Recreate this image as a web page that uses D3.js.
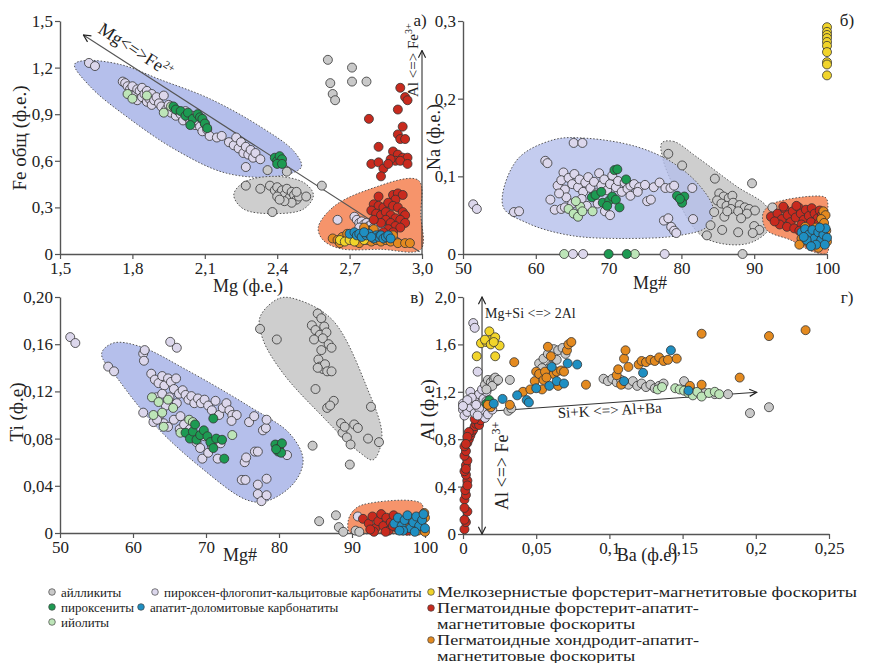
<!DOCTYPE html>
<html>
<head>
<meta charset="utf-8">
<script src="https://cdn.jsdelivr.net/npm/d3@7"></script>
<style>
body { margin: 0; background: #fff; }
text { font-family: "Liberation Serif", "DejaVu Serif", serif; fill: #222; }
</style>
</head>
<body>
<div id="chart"></div>
<script>
// ---- colours of the rock groups
const colAil = "#c9c9c9";   // айлликиты
const colPyr = "#1d9a52";   // пироксениты
const colIjo = "#bde5b8";   // ийолиты
const colPfc = "#dcd7ec";   // пироксен-флогопит-кальцитовые карбонатиты
const colApd = "#1f8fc2";   // апатит-доломитовые карбонатиты
const colFine = "#f1d42a";  // мелкозернистые фоскориты
const colPfa = "#c82a1e";   // пегматоидные форстерит-апатит-магнетитовые
const colPha = "#e48a1f";   // пегматоидные хондродит-апатит-магнетитовые

// ---- panel а) Mg vs Fe
const aXTicks = [1.5, 1.8, 2.1, 2.4, 2.7, 3.0];
const aXLabels = ["1,5", "1,8", "2,1", "2,4", "2,7", "3,0"];
const aYTicks = [0, 0.3, 0.6, 0.9, 1.2, 1.5];
const aYLabels = ["0", "0,3", "0,6", "0,9", "1,2", "1,5"];

const aAil = [[2.27,0.44],[2.33,0.42],[2.38,0.27],[2.37,0.44],[2.39,0.41],[2.40,0.43],[2.41,0.39],[2.42,0.41],[2.43,0.38],[2.44,0.42],[2.45,0.36],[2.46,0.40],[2.47,0.38],[2.48,0.35],[2.46,0.33],[2.43,0.34],[2.40,0.37],[2.49,0.37],[2.52,0.37],[2.41,0.35],[2.48,0.40],[2.44,0.53],[2.36,0.54],[2.585,0.44],[2.61,1.25],[2.62,1.10],[2.63,1.03],[2.64,0.99],[2.71,1.20],[2.71,1.11],[2.77,1.11]];
const aPfc = [[1.62,1.23],[1.645,1.21],[1.76,1.11],[1.77,1.10],[1.78,1.08],[1.79,1.06],[1.80,1.04],[1.80,1.08],[1.81,1.02],[1.82,1.06],[1.82,0.99],[1.83,1.05],[1.84,1.07],[1.84,1.01],[1.85,1.03],[1.86,0.98],[1.86,1.05],[1.87,1.00],[1.88,1.03],[1.88,0.96],[1.89,0.99],[1.90,1.01],[1.91,0.97],[1.92,0.95],[1.93,1.02],[1.94,0.93],[1.95,0.96],[1.96,0.91],[1.97,0.94],[1.98,0.89],[1.99,0.92],[2.00,0.90],[2.01,0.86],[2.02,0.92],[2.03,0.88],[2.04,0.85],[2.05,0.89],[2.06,0.83],[2.07,0.86],[2.08,0.82],[2.09,0.79],[2.10,0.84],[2.11,0.80],[2.12,0.76],[2.15,0.75],[2.17,0.76],[2.20,0.72],[2.22,0.70],[2.23,0.75],[2.24,0.68],[2.25,0.72],[2.26,0.65],[2.27,0.69],[2.28,0.64],[2.29,0.67],[2.30,0.62],[2.31,0.65],[2.33,0.61],[2.27,0.56],[2.65,0.22],[2.72,0.24],[2.73,0.22],[2.74,0.20],[2.75,0.21],[2.76,0.19],[2.77,0.20],[2.78,0.18],[2.79,0.19],[2.80,0.17],[2.82,0.18],[2.84,0.16],[2.74,0.17]];
const aPyr = [[1.97,0.95],[1.98,0.93],[2.00,0.92],[2.02,0.89],[2.03,0.91],[2.05,0.87],[2.07,0.90],[2.08,0.88],[2.09,0.87],[2.10,0.84],[2.11,0.81],[2.04,0.83],[2.39,0.62],[2.40,0.60],[2.41,0.63],[2.42,0.61],[2.40,0.58],[2.42,0.58]];
const aIjo = [[1.78,1.03],[1.80,1.00],[1.93,0.91],[1.96,0.95],[1.86,1.02]];
const aPfa = [[2.91,1.07],[2.93,1.01],[2.94,0.99],[2.90,0.93],[2.78,0.87],[2.92,0.82],[2.90,0.77],[2.91,0.74],[2.93,0.74],[2.82,0.69],[2.88,0.66],[2.90,0.64],[2.92,0.62],[2.94,0.62],[2.89,0.60],[2.91,0.60],[2.87,0.61],[2.94,0.58],[2.79,0.58],[2.82,0.59],[2.84,0.55],[2.83,0.50],[2.86,0.58],[2.82,0.37],[2.88,0.38],[2.90,0.39],[2.92,0.38],[2.89,0.35],[2.80,0.32],[2.82,0.31],[2.84,0.30],[2.86,0.33],[2.88,0.31],[2.90,0.30],[2.92,0.27],[2.93,0.25],[2.79,0.28],[2.81,0.26],[2.83,0.25],[2.85,0.27],[2.87,0.25],[2.89,0.23],[2.91,0.22],[2.93,0.20],[2.85,0.22],[2.87,0.20],[2.89,0.18],[2.91,0.17],[2.83,0.20],[2.80,0.22],[2.86,0.16],[2.88,0.14],[2.84,0.14],[2.78,0.15]];
const aPha = [[2.63,0.10],[2.65,0.09],[2.67,0.11],[2.69,0.10],[2.71,0.09],[2.73,0.08],[2.75,0.10],[2.77,0.09],[2.79,0.08],[2.81,0.09],[2.83,0.08],[2.85,0.09],[2.87,0.08],[2.90,0.07],[2.93,0.07],[2.95,0.07],[2.78,0.15],[2.80,0.16],[2.76,0.17],[2.88,0.12],[2.74,0.07],[2.69,0.13],[2.66,0.07]];
const aApd = [[2.70,0.13],[2.72,0.14],[2.73,0.12],[2.74,0.13],[2.75,0.11],[2.77,0.12],[2.78,0.13],[2.80,0.10],[2.81,0.12],[2.82,0.11],[2.83,0.12],[2.84,0.10],[2.85,0.11],[2.86,0.12],[2.87,0.10],[2.79,0.11],[2.76,0.14]];
const aFine = [[2.66,0.09],[2.68,0.08],[2.70,0.09],[2.72,0.08],[2.76,0.09]];

const aHullPfc = [[1.56,1.22],[1.60,1.245],[1.75,1.22],[1.92,1.12],[2.12,1.0],[2.33,0.82],[2.47,0.66],[2.50,0.56],[2.40,0.50],[2.19,0.52],[1.98,0.67],[1.78,0.88],[1.63,1.07]];
const aHullAil = [[2.22,0.38],[2.26,0.46],[2.385,0.50],[2.51,0.46],[2.55,0.38],[2.51,0.29],[2.385,0.26],[2.26,0.29]];
const aHullPho = [[2.57,0.17],[2.63,0.30],[2.77,0.41],[2.985,0.475],[2.995,0.25],[2.995,0.03],[2.83,0.03],[2.66,0.035],[2.59,0.09]];
const aArrowFe = [[2.99,0.015],[1.597,1.41]];
const aArrowAl = [[3.0,0],[3.0,1.31]];

// ---- panel б) Mg# vs Na
const bXTicks = [50, 60, 70, 80, 90, 100];
const bXLabels = ["50", "60", "70", "80", "90", "100"];
const bYTicks = [0, 0.1, 0.2, 0.3];
const bYLabels = ["0", "0,1", "0,2", "0,3"];

const bAil = [[78.2,0.129],[80.1,0.114],[84.6,0.097],[89.7,0.091],[85.2,0.078],[85.8,0.074],[86.5,0.072],[87,0.075],[84.9,0.069],[85.5,0.065],[86.2,0.062],[87.1,0.066],[88,0.063],[88.7,0.060],[89.3,0.058],[90.1,0.056],[86.8,0.058],[87.8,0.055],[89,0.052],[85.9,0.048],[88.2,0.046],[84,0.037],[85.6,0.031],[83.5,0.024],[87.8,0.028],[90,0.036],[90.7,0.031],[89.8,0.027],[84.5,0.054],[86.3,0.055],[88.4,0],[92.5,0.06]];
const bPfc = [[51.4,0.064],[51.9,0.058],[57.0,0.054],[57.7,0.055],[61.3,0.120],[61.6,0.117],[65.2,0.143],[66.4,0.143],[62.0,0.070],[62.6,0.057],[63.5,0.058],[63.8,0.105],[63,0.088],[63.5,0.095],[64,0.083],[64.5,0.098],[65,0.090],[65.3,0.103],[65.8,0.086],[66,0.096],[66.5,0.080],[66.8,0.092],[67.2,0.099],[67.5,0.085],[68,0.093],[68.3,0.078],[68.7,0.104],[69,0.088],[69.4,0.096],[69.8,0.082],[70.2,0.090],[70.5,0.101],[71,0.086],[71.3,0.094],[71.8,0.080],[72.2,0.092],[72.6,0.084],[73,0.088],[73.5,0.090],[74.2,0.086],[75,0.089],[75.3,0.068],[75.8,0.070],[76.2,0.086],[77,0.092],[77.8,0.085],[78.5,0.085],[79,0.088],[64.2,0.073],[65,0.065],[66.3,0.071],[67,0.062],[68.5,0.065],[69.5,0.055],[70.2,0.050],[64,0.060],[63.2,0.078],[73,0.075],[74,0.080],[77.6,0.043],[78.2,0.046],[78.6,0.035],[79,0.030],[79.3,0.027],[81.6,0.045],[81.5,0.085],[65.1,0],[66.5,0],[77.7,0]];
const bPyr = [[70.8,0.108],[71.2,0.109],[72.4,0.096],[67.7,0.073],[68.2,0.076],[69.2,0.066],[70.1,0.069],[70.5,0.074],[71.0,0.070],[71.5,0.060],[69.8,0.062],[69,0.080],[79.4,0.075],[80,0.069],[80.4,0.074],[80.1,0.066],[79.8,0.071],[70,0],[72.5,0]];
const bIjo = [[64.5,0.058],[65.2,0.052],[65.8,0.048],[66.1,0.061],[66.4,0.055],[67.8,0.055],[65.5,0.068],[63.9,0],[73.6,0]];
const bPfa = [[92.3,0.048],[93.2,0.052],[93.8,0.045],[94.2,0.058],[94.6,0.050],[95.0,0.041],[95.3,0.055],[95.7,0.047],[96.1,0.060],[96.4,0.052],[96.8,0.044],[97.1,0.057],[97.5,0.049],[97.9,0.059],[98.3,0.052],[98.7,0.046],[99.0,0.056],[99.3,0.050],[93.5,0.038],[94.5,0.035],[95.5,0.033],[96.5,0.038],[94.0,0.061],[95.8,0.062],[97.8,0.041],[98.9,0.040],[92.8,0.042],[96.2,0.030]];
const bPha = [[99.5,0.055],[99.8,0.050],[99.2,0.045],[99.6,0.040],[97.0,0.035],[98.5,0.034],[99.9,0.030],[96.5,0.020],[97.5,0.014],[99.0,0.022],[100,0.016],[98.0,0.024],[96.2,0.012],[98.8,0.008]];
const bApd = [[96.5,0.028],[97.0,0.032],[97.5,0.025],[98.0,0.031],[98.3,0.020],[98.8,0.028],[99.2,0.018],[99.5,0.025],[99.8,0.033],[100,0.021],[97.2,0.018],[96.8,0.022],[98.5,0.012],[99.7,0.012],[97.8,0.010],[99.0,0.034]];
const bFine = [[100,0.292],[100,0.286],[100,0.282],[100,0.278],[100,0.273],[100,0.268],[100,0.260],[100,0.247],[100,0.244],[100,0.230]];

const bHullPfc = [[55.5,0.061],[57.4,0.121],[62.4,0.147],[67.0,0.149],[73.9,0.138],[78.9,0.117],[82.6,0.087],[84.4,0.057],[83.5,0.035],[79.8,0.024],[72.5,0.020],[64.7,0.024],[58.8,0.040]];
const bHullAil = [[77.3,0.143],[78.9,0.145],[82.1,0.125],[87.6,0.087],[91.7,0.061],[92.2,0.035],[89.9,0.016],[86.7,0.012],[83.0,0.022],[80.7,0.048],[78.9,0.087],[77.5,0.121]];
const bHullPho = [[91.2,0.052],[92.6,0.065],[99.5,0.074],[100,0.070],[100,0.035],[100,0.001],[98.1,0.003],[95,0.018],[91.7,0.031]];

// ---- panel в) Mg# vs Ti
const cXTicks = [50, 60, 70, 80, 90, 100];
const cXLabels = ["50", "60", "70", "80", "90", "100"];
const cYTicks = [0, 0.04, 0.08, 0.12, 0.16, 0.20];
const cYLabels = ["0", "0,04", "0,08", "0,12", "0,16", "0,20"];

const cAil = [[77.4,0.173],[79.7,0.164],[84.6,0.074],[89.7,0.058],[85.3,0.186],[85.8,0.182],[84.5,0.176],[85,0.172],[86.2,0.175],[85.6,0.168],[86.5,0.170],[84.8,0.164],[86,0.165],[86.8,0.160],[87.2,0.157],[85.8,0.155],[85.4,0.147],[85.6,0.141],[86,0.139],[86.3,0.143],[86.6,0.137],[87.2,0.137],[85.3,0.140],[85,0.122],[87.5,0.112],[86.6,0.106],[87,0.108],[88.5,0.093],[88.7,0.085],[89.3,0.081],[89.8,0.075],[89,0.090],[90.3,0.092],[90.8,0.089],[92.6,0.107],[92.2,0.080],[93.7,0.077],[85.5,0.010],[87.8,0.015],[88.2,0.005],[88.8,0.001],[90.5,0.002],[91,0.001]];
const cPfc = [[51.4,0.166],[52.1,0.161],[56.6,0.141],[57.4,0.137],[65.1,0.162],[66,0.157],[61.4,0.152],[61.5,0.146],[61.6,0.155],[62.5,0.135],[63,0.130],[63.5,0.127],[64,0.133],[64.3,0.125],[64.8,0.131],[65.2,0.128],[65.6,0.122],[65.9,0.131],[66.3,0.118],[66.8,0.121],[67.2,0.117],[67.6,0.113],[68,0.116],[68.4,0.110],[68.9,0.114],[69.3,0.110],[69.8,0.113],[70.3,0.108],[70.8,0.104],[71.3,0.112],[71.8,0.100],[72.3,0.106],[72.8,0.110],[73.2,0.104],[73.6,0.100],[74.2,0.100],[73.5,0.095],[63.2,0.115],[64,0.118],[65,0.115],[66,0.110],[64.5,0.108],[63.5,0.098],[64.2,0.093],[64.8,0.090],[65.6,0.096],[66.4,0.088],[67,0.092],[67.8,0.088],[68.7,0.077],[69.2,0.072],[69.5,0.063],[70.3,0.068],[70.8,0.074],[71.6,0.063],[72,0.076],[69.8,0.082],[62.8,0.094],[63.3,0.096],[66.5,0.099],[61.4,0.102],[74.9,0.045],[75.4,0.045],[77.1,0.041],[77.1,0.033],[77.6,0.027],[78.3,0.032],[78.3,0.046],[75.3,0.060],[75.5,0.064],[76.7,0.069],[77.1,0.069],[77.8,0.087],[78.2,0.089],[78.3,0.096],[75.9,0.094],[76.6,0.099],[81.1,0.066],[90.8,0.014],[96,0.012]];
const cPyr = [[67.2,0.085],[67.8,0.080],[68.2,0.086],[68.7,0.079],[69.2,0.083],[69.7,0.087],[70.2,0.082],[70.6,0.077],[71,0.072],[71.4,0.080],[72.2,0.079],[72.5,0.063],[71,0.097],[68.5,0.092],[79.5,0.075],[80,0.072],[80.4,0.076],[79.9,0.069],[80.3,0.068],[79.6,0.071]];
const cIjo = [[62.6,0.115],[63.5,0.111],[62.8,0.100],[64,0.102],[65.5,0.106],[64.8,0.113],[67.7,0.096],[68.2,0.094],[73.6,0.083],[64.2,0.090],[66.5,0.085]];
const cPfa = [[91.5,0.012],[92.3,0.008],[92.8,0.014],[93.2,0.004],[93.6,0.010],[94,0.016],[94.3,0.006],[94.7,0.013],[95,0.002],[95.3,0.009],[95.7,0.015],[96,0.005],[96.4,0.011],[96.8,0.003],[97.2,0.008],[93,0.001],[94.6,0.001],[97.6,0.002],[95.6,0.006],[92.5,0.003]];
const cPha = [[97.5,0.004],[98.2,0.012],[99,0.002],[99.5,0.008],[100,0.013],[100,0.001],[96.9,0.010],[99.9,0.017]];
const cApd = [[95.8,0.008],[96.3,0.013],[96.8,0.006],[97.2,0.011],[97.6,0.015],[98,0.004],[98.4,0.009],[98.8,0.014],[99.2,0.006],[99.6,0.011],[100,0.004],[97,0.002],[98.6,0.001],[99.8,0.016],[96.5,0.002]];

const cHullPfc = [[55.7,0.152],[57.3,0.161],[61,0.158],[67.4,0.138],[76,0.107],[81.5,0.084],[83.3,0.062],[82,0.042],[78.3,0.027],[75.6,0.028],[69.2,0.056],[63.2,0.090],[58,0.130]];
const cHullAil = [[77.4,0.183],[80.1,0.199],[82.9,0.197],[87.4,0.180],[92,0.124],[94.1,0.082],[92.9,0.062],[91.1,0.068],[85.6,0.101],[80.6,0.135],[77.8,0.164]];
const cHullPho = [[89.5,0.011],[90.2,0.019],[91.5,0.024],[99.5,0.025],[99.6,0.012],[99.5,0.0],[94,0.0],[89.7,0.0005]];

// ---- panel г) Ba vs Al
const dXTicks = [0, 0.05, 0.1, 0.15, 0.2, 0.25];
const dXLabels = ["0", "0,05", "0,1", "0,15", "0,2", "0,25"];
const dYTicks = [0, 0.4, 0.8, 1.2, 1.6, 2.0];
const dYLabels = ["0", "0,4", "0,8", "1,2", "1,6", "2,0"];

const dPfa = [[0.001,0.04],[0.002,0.10],[0.001,0.12],[0.003,0.19],[0.001,0.29],[0.002,0.33],[0.0015,0.37],[0.003,0.45],[0.002,0.50],[0.001,0.53],[0.002,0.58],[0.003,0.62],[0.001,0.66],[0.002,0.70],[0.001,0.74],[0.003,0.77],[0.004,0.80],[0.005,0.83],[0.006,0.86],[0.007,0.88],[0.008,0.91],[0.009,0.93],[0.010,0.95],[0.011,0.92],[0.012,0.96],[0.008,0.97],[0.004,0.86],[0.003,0.82],[0.002,0.76],[0.002,0.55],[0.003,0.41],[0.001,0.22]];
const dPfc = [[0.007,1.78],[0.008,1.74],[0.010,1.37],[0.005,1.20],[0.0,1.10],[0.0,1.05],[0.001,1.00],[0.003,1.03],[0.005,1.07],[0.007,1.12],[0.009,1.15],[0.011,1.18],[0.012,1.10],[0.014,1.14],[0.016,1.12],[0.018,1.08],[0.013,1.04],[0.015,0.98],[0.017,1.01],[0.020,1.05],[0.008,1.02],[0.011,1.06],[0.016,1.20],[0.018,1.24],[0.006,1.15],[0.003,1.13],[0.0,1.08],[0.010,1.00],[0.013,1.22],[0.009,1.09]];
const dAil = [[0.015,1.26],[0.017,1.30],[0.019,1.28],[0.021,1.31],[0.023,1.29],[0.020,1.25],[0.022,1.32],[0.024,1.30],[0.016,1.22],[0.032,1.30],[0.031,1.04],[0.033,1.06],[0.052,1.44],[0.055,1.48],[0.058,1.52],[0.062,1.56],[0.065,1.55],[0.068,1.57],[0.070,1.52],[0.064,1.47],[0.060,1.42],[0.057,1.39],[0.054,1.40],[0.096,1.31],[0.099,1.29],[0.102,1.31],[0.105,1.28],[0.108,1.30],[0.110,1.27],[0.113,1.26],[0.116,1.29],[0.119,1.25],[0.122,1.27],[0.125,1.24],[0.128,1.26],[0.131,1.23],[0.134,1.25],[0.137,1.27],[0.151,1.29],[0.165,1.19],[0.172,1.18],[0.181,1.18],[0.196,1.02],[0.209,1.07]];
const dIjo = [[0.133,1.22],[0.136,1.24],[0.145,1.23],[0.148,1.22],[0.151,1.21],[0.154,1.19],[0.156,1.21],[0.157,1.17],[0.160,1.20],[0.163,1.16],[0.168,1.19],[0.172,1.20],[0.175,1.18]];
const dPyr = [[0.016,1.10],[0.018,1.13]];
const dFine = [[0.018,1.71],[0.0123,1.61],[0.016,1.62],[0.0196,1.64],[0.022,1.66],[0.015,1.64],[0.019,1.60],[0.025,1.59],[0.0094,1.50],[0.022,1.50],[0.021,1.62]];
const dPha = [[0.019,1.07],[0.017,1.09],[0.035,1.45],[0.032,1.09],[0.041,1.20],[0.046,1.22],[0.049,1.29],[0.050,1.37],[0.052,1.35],[0.055,1.30],[0.056,1.37],[0.058,1.58],[0.060,1.50],[0.062,1.35],[0.064,1.37],[0.065,1.25],[0.067,1.38],[0.069,1.37],[0.071,1.55],[0.072,1.60],[0.074,1.62],[0.054,1.22],[0.084,1.26],[0.105,1.34],[0.106,1.39],[0.110,1.48],[0.111,1.55],[0.113,1.41],[0.120,1.43],[0.122,1.46],[0.125,1.45],[0.128,1.47],[0.131,1.46],[0.134,1.49],[0.137,1.46],[0.140,1.47],[0.146,1.48],[0.155,1.25],[0.163,1.26],[0.163,1.69],[0.189,1.32],[0.209,1.67],[0.234,1.72],[0.108,1.26],[0.057,1.32]];
const dApd = [[0.021,1.10],[0.027,1.14],[0.037,1.17],[0.0435,1.13],[0.045,1.11],[0.050,1.23],[0.059,1.25],[0.0606,1.41],[0.064,1.29],[0.069,1.27],[0.0715,1.44],[0.078,1.43],[0.123,1.36],[0.110,1.29],[0.142,1.55],[0.154,1.21]];
const dArrowV = [[0.013,0],[0.013,2.0]];
const dArrowBa = [[0.0116,1.03],[0.2006,1.196]];

// ---- legend
const legendLabels = ["айлликиты", "пироксениты", "ийолиты", "пироксен-флогопит-кальцитовые карбонатиты", "апатит-доломитовые карбонатиты", "Мелкозернистые форстерит-магнетитовые фоскориты", "Пегматоидные форстерит-апатит-", "Пегматоидные хондродит-апатит-"];
const legendColors = [colAil, colPyr, colIjo, colPfc, colApd, colFine, colPfa, colPha];
const legendSecondLine = "магнетитовые фоскориты";

const width = 874, height = 663;
const svg = d3.select("#chart").append("svg")
    .attr("width", width).attr("height", height);

// arrow heads
const defs = svg.append("defs");
defs.append("marker")
    .attr("id", "arr")
    .attr("viewBox", "0 0 10 10")
    .attr("refX", 9).attr("refY", 5)
    .attr("markerWidth", 9).attr("markerHeight", 9)
    .attr("markerUnits", "userSpaceOnUse")
    .attr("orient", "auto-start-reverse")
    .append("path")
    .attr("d", "M1,1 L9,5 L1,9")
    .attr("fill", "none").attr("stroke", "#222").attr("stroke-width", 1.3);

function drawPanel(p) {
    const x = d3.scaleLinear().domain(p.xDomain).range(p.xRange);
    const y = d3.scaleLinear().domain(p.yDomain).range(p.yRange);
    const g = svg.append("g");

    // shaded fields
    const hullLine = d3.line()
        .x((d) => x(d[0]))
        .y((d) => y(d[1]))
        .curve(d3.curveCatmullRomClosed.alpha(0.5));
    p.hulls.forEach((h) => {
        g.append("path")
            .datum(h.pts)
            .attr("d", hullLine)
            .attr("fill", h.fill)
            .attr("fill-opacity", h.opacity || 1)
            .attr("stroke", "#555")
            .attr("stroke-width", 1)
            .attr("stroke-dasharray", "1.5,1.8");
    });

    // axes
    const xAxis = g.append("g")
        .attr("transform", `translate(0,${p.yRange[0]})`)
        .call(d3.axisBottom(x).tickValues(p.xTicks)
            .tickFormat((d, i) => p.xLabels[i]).tickSize(5).tickSizeOuter(0).tickPadding(3));
    const yAxis = g.append("g")
        .attr("transform", `translate(${p.xRange[0]},0)`)
        .call(d3.axisLeft(y).tickValues(p.yTicks)
            .tickFormat((d, i) => p.yLabels[i]).tickSize(5).tickSizeOuter(0).tickPadding(2));
    [xAxis, yAxis].forEach((a) => {
        a.attr("font-family", null);
        a.select(".domain").attr("stroke", "#555").attr("stroke-width", 1.4);
        a.selectAll(".tick line").attr("stroke", "#555").attr("stroke-width", 1.2);
        a.selectAll(".tick text")
            .style("font-family", '"Liberation Serif", "DejaVu Serif", serif')
            .style("font-size", "17px")
            .attr("fill", "#333");
    });

    // arrows
    (p.arrows || []).forEach((ar) => {
        g.append("line")
            .attr("x1", x(ar.pts[0][0])).attr("y1", y(ar.pts[0][1]))
            .attr("x2", x(ar.pts[1][0])).attr("y2", y(ar.pts[1][1]))
            .attr("stroke", ar.color || "#333")
            .attr("stroke-width", 1.1)
            .attr("marker-end", "url(#arr)")
            .attr("marker-start", ar.both ? "url(#arr)" : null);
    });

    // points
    p.series.forEach((s) => {
        g.append("g")
            .selectAll("circle")
            .data(s.data)
            .join("circle")
            .attr("cx", (d) => x(d[0]))
            .attr("cy", (d) => y(d[1]))
            .attr("r", 4.5)
            .attr("fill", s.color)
            .attr("stroke", "#333")
            .attr("stroke-width", 0.8);
    });
    return g;
}

const fillBlue = "#b5bfeb", fillGrey = "#cecece", fillOrange = "#f6946b";

drawPanel({
    xDomain: [1.5, 3.0], xRange: [60, 422],
    yDomain: [0, 1.5], yRange: [254, 21],
    xTicks: aXTicks, xLabels: aXLabels, yTicks: aYTicks, yLabels: aYLabels,
    hulls: [
        { pts: aHullPfc, fill: fillBlue },
        { pts: aHullAil, fill: fillGrey },
        { pts: aHullPho, fill: fillOrange },
    ],
    arrows: [
        { pts: aArrowFe, color: "#555" },
        { pts: aArrowAl },
    ],
    series: [
        { data: aAil, color: colAil },
        { data: aPfc, color: colPfc },
        { data: aIjo, color: colIjo },
        { data: aPyr, color: colPyr },
        { data: aPfa, color: colPfa },
        { data: aPha, color: colPha },
        { data: aFine, color: colFine },
        { data: aApd, color: colApd },
    ],
});

drawPanel({
    xDomain: [50, 100], xRange: [463, 827],
    yDomain: [0, 0.3], yRange: [254, 21],
    xTicks: bXTicks, xLabels: bXLabels, yTicks: bYTicks, yLabels: bYLabels,
    hulls: [
        { pts: bHullAil, fill: fillGrey },
        { pts: bHullPfc, fill: fillBlue, opacity: 0.8 },
        { pts: bHullPho, fill: fillOrange },
    ],
    series: [
        { data: bAil, color: colAil },
        { data: bPfc, color: colPfc },
        { data: bIjo, color: colIjo },
        { data: bPyr, color: colPyr },
        { data: bPfa, color: colPfa },
        { data: bPha, color: colPha },
        { data: bApd, color: colApd },
        { data: bFine, color: colFine },
    ],
});

drawPanel({
    xDomain: [50, 100], xRange: [60, 425],
    yDomain: [0, 0.2], yRange: [533, 297],
    xTicks: cXTicks, xLabels: cXLabels, yTicks: cYTicks, yLabels: cYLabels,
    hulls: [
        { pts: cHullPfc, fill: fillBlue },
        { pts: cHullAil, fill: fillGrey },
        { pts: cHullPho, fill: fillOrange },
    ],
    series: [
        { data: cAil, color: colAil },
        { data: cPfc, color: colPfc },
        { data: cIjo, color: colIjo },
        { data: cPyr, color: colPyr },
        { data: cPfa, color: colPfa },
        { data: cPha, color: colPha },
        { data: cApd, color: colApd },
    ],
});

drawPanel({
    xDomain: [0, 0.25], xRange: [463, 829],
    yDomain: [0, 2.0], yRange: [534, 297],
    xTicks: dXTicks, xLabels: dXLabels, yTicks: dYTicks, yLabels: dYLabels,
    hulls: [],
    arrows: [
        { pts: dArrowV, both: true },
        { pts: dArrowBa },
    ],
    series: [
        { data: dPfa, color: colPfa },
        { data: dPfc, color: colPfc },
        { data: dAil, color: colAil },
        { data: dIjo, color: colIjo },
        { data: dPyr, color: colPyr },
        { data: dPha, color: colPha },
        { data: dApd, color: colApd },
        { data: dFine, color: colFine },
    ],
});

// axis titles and panel letters
function label(txt, x, y, size, rot, anchor) {
    return svg.append("text")
        .attr("transform", `translate(${x},${y}) rotate(${rot || 0})`)
        .attr("text-anchor", anchor || "middle")
        .style("font-size", size + "px")
        .text(txt);
}
label("Fe общ (ф.е.)", 26, 138, 19, -90);
label("Mg (ф.е.)", 248, 292, 18);
label("Na (ф.е.)", 440, 137, 18, -90);
label("Mg#", 650, 289, 18);
label("Ti (ф.е)", 23, 412, 19, -90);
label("Mg#", 240, 561, 18);
label("Al (ф.е)", 434, 410, 19, -90);
label("Ba (ф.е)", 647, 561, 18);

label("а)", 420, 26, 17);
label("б)", 847, 26, 17);
label("в)", 417, 303, 17);
label("г)", 847, 303, 17);

// reaction labels
const fe2 = label("Mg<=>Fe", 97, 32, 18, 33, "start");
fe2.append("tspan").attr("dy", -7).style("font-size", "11px").text("2+");
const fe3a = label("Al <=> Fe", 418, 97, 15, -90, "start");
fe3a.append("tspan").attr("dy", -6).style("font-size", "10px").text("3+");
const fe3d = label("Al <=> Fe", 508, 510, 18, -90, "start");
fe3d.append("tspan").attr("dy", -8).style("font-size", "12px").text("3+");
label("Mg+Si <=> 2Al", 485, 318, 14, 0, "start");
label("Si+K <=> Al+Ba", 558, 418, 15, -3, "start");

// legend: the right column is set wider, as in the source figure
const legend = svg.append("g");
const legendPos = [
    [52, 592], [52, 607], [52, 622],
    [155, 592], [141, 607],
    [431, 592], [431, 608], [431, 640],
];
function legendText(t, x, y, wide) {
    const el = legend.append("text")
        .attr("x", x).attr("y", y)
        .style("font-size", wide ? "14px" : "13px")
        .text(t);
    if (wide) {
        const w = el.node().getComputedTextLength();
        el.attr("textLength", w * 1.3).attr("lengthAdjust", "spacingAndGlyphs");
    }
}
legendLabels.forEach((t, i) => {
    const [lx, ly] = legendPos[i];
    const wide = i >= 5;
    legend.append("circle")
        .attr("cx", lx).attr("cy", ly).attr("r", 3.3)
        .attr("fill", legendColors[i]).attr("stroke", "#444").attr("stroke-width", 0.7);
    legendText(t, lx + (wide ? 6 : 9), ly + 4.5, wide);
    if (i >= 6) legendText(legendSecondLine, lx + 6, ly + 20.5, true);
});
</script>
</body>
</html>
